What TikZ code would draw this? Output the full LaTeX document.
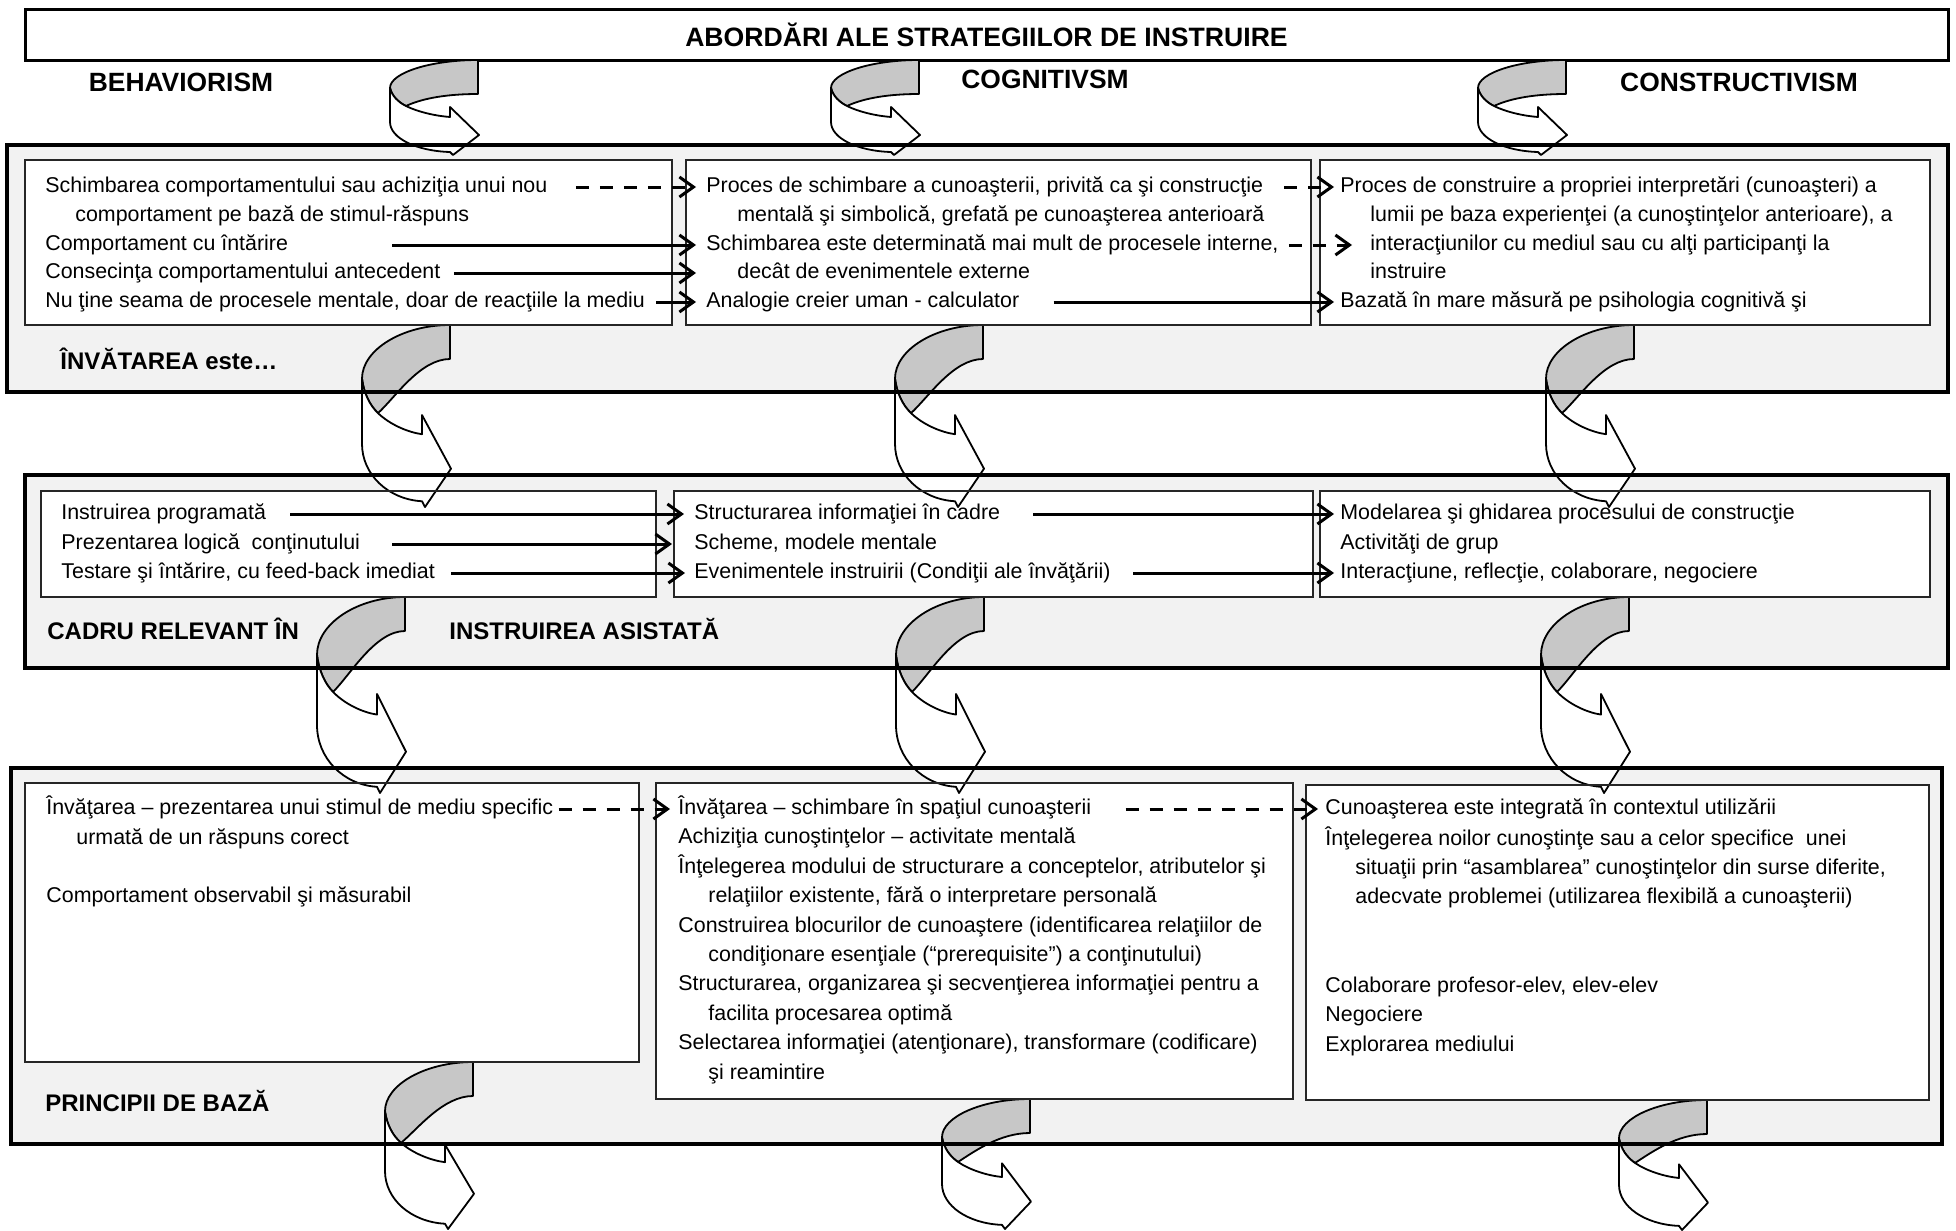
\documentclass[tikz,border=0pt]{standalone}
\usepackage{fontspec}
\setmainfont{Liberation Sans}
\usetikzlibrary{arrows.meta}

% bands and inner boxes (x1/y1/x2/y2, in pixels of the page)
\def\bandlist{7/145/1948/392, 25/475/1948/668, 11/768/1942/1144}
\def\boxlist{25/160/672/325, 686/160/1311/325, 1320/160/1930/325,
  41/491/656/597, 674/491/1313/597, 1320/491/1930/597,
  25/783/639/1062, 656/783/1293/1099, 1306/785/1929/1100}

% ribbon arrow: #1 right x, #2 top y, #3 height
\newcommand{\bendarrow}[3]{%
  \pgfmathsetmacro\arrsc{#3/95}%
  \pgfmathsetmacro\arrgw{34/\arrsc}%
  \begin{scope}[shift={(#1,#2)},yscale=\arrsc]
    \filldraw[ribbon,fill=black!22] (0,0) .. controls (-48,0) and (-88,13) .. (-88,28)
      .. controls (-86,36) and (-80,42) .. (-72,46)
      .. controls (-55,38) and (-30,\arrgw) .. (0,\arrgw) -- cycle;
    \filldraw[ribbon,fill=white] (-88,28) -- (-88,62)
      .. controls (-88,78) and (-62,91) .. (-28,92) -- (-25,95) -- (1,75) -- (-28,47) -- (-28,57)
      .. controls (-42,56) and (-60,52) .. (-72,46)
      .. controls (-80,42) and (-86,36) .. (-88,28) -- cycle;
  \end{scope}}

\begin{document}
\begin{tikzpicture}[x=0.5pt,y=-0.5pt,
    body/.style={anchor=west,inner sep=0pt,text height=8pt,text depth=2.5pt,font=\fontsize{10.7}{13}\selectfont},
    lbl/.style={anchor=west,inner sep=0pt,text height=9pt,text depth=0pt,font=\bfseries\fontsize{12}{14}\selectfont},
    head/.style={inner sep=0pt,font=\bfseries\fontsize{13.2}{15}\selectfont},
    bandbg/.style={fill=black!5},
    bandframe/.style={draw=black,line width=1.7pt},
    boxframe/.style={draw=black!85,line width=0.8pt},
    ribbon/.style={draw=black,line width=0.9pt,line join=round},
    flow/.style={line width=1.5pt,-{Straight Barb[length=7pt,width=10pt]}},
    flowdash/.style={flow,dash pattern=on 6.5pt off 5.5pt}]

    \useasboundingbox (0,0) rectangle (1956,1231);

    % title and headers
    \node[draw,line width=1.5pt,minimum width=961.5pt,minimum height=25.5pt,inner sep=0pt,
      font=\bfseries\fontsize{13.3}{15}\selectfont] (title) at (986.5,34.5) {ABORDĂRI ALE STRATEGIILOR DE INSTRUIRE};
    \node[head] (hbeh) at (181,82) {BEHAVIORISM};
    \node[head] (hcog) at (1045,79) {COGNITIVSM};
    \node[head] (hcon) at (1739,82) {CONSTRUCTIVISM};

    % band and box fills
    \foreach \xa/\ya/\xb/\yb in \bandlist
      \fill[bandbg] (\xa,\ya) rectangle (\xb,\yb);
    \foreach \xa/\ya/\xb/\yb in \boxlist
      \fill[white] (\xa,\ya) rectangle (\xb,\yb);

    % ribbon arrows
    \foreach \ax/\ay/\ah in {478/60/95, 919/60/95, 1566/60/95,
        450/325/182, 983/325/182, 1634/325/182,
        405/597/196, 984/597/196, 1629/597/196,
        473/1062/167, 1030/1099/130, 1707/1100/130}
      {\bendarrow{\ax}{\ay}{\ah}}

    % frames
    \foreach \xa/\ya/\xb/\yb in \bandlist
      \draw[bandframe] (\xa,\ya) rectangle (\xb,\yb);
    \foreach \xa/\ya/\xb/\yb in \boxlist
      \draw[boxframe] (\xa,\ya) rectangle (\xb,\yb);

    % band 1
    \node[body] (b1a) at (45,187) {Schimbarea comportamentului sau achiziţia unui nou};
    \node[body] (b1b) at (75,216) {comportament pe bază de stimul-răspuns};
    \node[body] (b1c) at (45,245) {Comportament cu întărire};
    \node[body] (b1d) at (45,273) {Consecinţa comportamentului antecedent};
    \node[body] (b1e) at (45,302) {Nu ţine seama de procesele mentale, doar de reacţiile la mediu};
    \node[body] (c1a) at (706,187) {Proces de schimbare a cunoaşterii, privită ca şi construcţie};
    \node[body] (c1b) at (737,216) {mentală şi simbolică, grefată pe cunoaşterea anterioară};
    \node[body] (c1c) at (706,245) {Schimbarea este determinată mai mult de procesele interne,};
    \node[body] (c1d) at (737,273) {decât de evenimentele externe};
    \node[body] (c1e) at (706,302) {Analogie creier uman - calculator};
    \node[body] (k1a) at (1340,187) {Proces de construire a propriei interpretări (cunoaşteri) a};
    \node[body] (k1b) at (1370,216) {lumii pe baza experienţei (a cunoştinţelor anterioare), a};
    \node[body] (k1c) at (1370,245) {interacţiunilor cu mediul sau cu alţi participanţi la};
    \node[body] (k1d) at (1370,273) {instruire};
    \node[body] (k1e) at (1340,302) {Bazată în mare măsură pe psihologia cognitivă şi};
    \node[lbl] (lbl1) at (60,360) {ÎNVĂTAREA este…};

    % band 2
    \node[body] (b2a) at (61,514) {Instruirea programată};
    \node[body] (b2b) at (61,544) {Prezentarea logică\ \ conţinutului};
    \node[body] (b2c) at (61,573) {Testare şi întărire, cu feed-back imediat};
    \node[body] (c2a) at (694,514) {Structurarea informaţiei în cadre};
    \node[body] (c2b) at (694,544) {Scheme, modele mentale};
    \node[body] (c2c) at (694,573) {Evenimentele instruirii (Condiţii ale învăţării)};
    \node[body] (k2a) at (1340,514) {Modelarea şi ghidarea procesului de construcţie};
    \node[body] (k2b) at (1340,544) {Activităţi de grup};
    \node[body] (k2c) at (1340,573) {Interacţiune, reflecţie, colaborare, negociere};
    \node[lbl] (lbl2a) at (47,630) {CADRU RELEVANT ÎN};
    \node[lbl] (lbl2b) at (449,630) {INSTRUIREA ASISTATĂ};

    % band 3
    \node[body] (b3a) at (46,809) {Învăţarea – prezentarea unui stimul de mediu specific};
    \node[body] (b3b) at (76,839) {urmată de un răspuns corect};
    \node[body] (b3c) at (46,897) {Comportament observabil şi măsurabil};
    \node[body] (c3a) at (678,809) {Învăţarea – schimbare în spaţiul cunoaşterii};
    \node[body] (c3b) at (678,838) {Achiziţia cunoştinţelor – activitate mentală};
    \node[body] (c3c) at (678,868) {Înţelegerea modului de structurare a conceptelor, atributelor şi};
    \node[body] (c3d) at (708,897) {relaţiilor existente, fără o interpretare personală};
    \node[body] (c3e) at (678,927) {Construirea blocurilor de cunoaştere (identificarea relaţiilor de};
    \node[body] (c3f) at (708,956) {condiţionare esenţiale (“prerequisite”) a conţinutului)};
    \node[body] (c3g) at (678,985) {Structurarea, organizarea şi secvenţierea informaţiei pentru a};
    \node[body] (c3h) at (708,1015) {facilita procesarea optimă};
    \node[body] (c3i) at (678,1044) {Selectarea informaţiei (atenţionare), transformare (codificare)};
    \node[body] (c3j) at (708,1074) {şi reamintire};
    \node[body] (k3a) at (1325,809) {Cunoaşterea este integrată în contextul utilizării};
    \node[body] (k3b) at (1325,840) {Înţelegerea noilor cunoştinţe sau a celor specifice\ \ unei};
    \node[body] (k3c) at (1355,869) {situaţii prin “asamblarea” cunoştinţelor din surse diferite,};
    \node[body] (k3d) at (1355,898) {adecvate problemei (utilizarea flexibilă a cunoaşterii)};
    \node[body] (k3e) at (1325,987) {Colaborare profesor-elev, elev-elev};
    \node[body] (k3f) at (1325,1016) {Negociere};
    \node[body] (k3g) at (1325,1046) {Explorarea mediului};
    \node[lbl] (lbl3) at (45,1102) {PRINCIPII DE BAZĂ};

    % links between columns
    \draw[flowdash] ([xshift=14pt]b1a.east) -- ([xshift=-5pt]c1a.west);
    \draw[flow] ([xshift=52pt]b1c.east) -- ([xshift=-5pt]c1c.west);
    \draw[flow] ([xshift=6.5pt]b1d.east) -- ([xshift=-5pt]c1c.west |- b1d.east);
    \draw[flow] ([xshift=5.5pt]b1e.east) -- ([xshift=-5pt]c1e.west);
    \draw[flowdash] ([xshift=10.5pt]c1a.east) -- ([xshift=-3pt]k1a.west);
    \draw[flowdash] ([xshift=5pt]c1c.east) -- ([xshift=-9pt]k1c.west);
    \draw[flow] ([xshift=17pt]c1e.east) -- ([xshift=-3pt]k1e.west);

    \draw[flow] ([xshift=12pt]b2a.east) -- ([xshift=-5pt]c2a.west);
    \draw[flow] ([xshift=16pt]b2b.east) -- ([xshift=-11pt]c2b.west);
    \draw[flow] ([xshift=8pt]b2c.east) -- ([xshift=-4.5pt]c2c.west);
    \draw[flow] ([xshift=16.5pt]c2a.east) -- ([xshift=-3pt]k2a.west);
    \draw[flow] ([xshift=11pt]c2c.east) -- ([xshift=-3pt]k2c.west);

    \draw[flowdash] ([xshift=2.5pt]b3a.east) -- ([xshift=-4pt]c3a.west);
    \draw[flowdash] ([xshift=17pt]c3a.east) -- ([xshift=-3.5pt]k3a.west);

\end{tikzpicture}
\end{document}
